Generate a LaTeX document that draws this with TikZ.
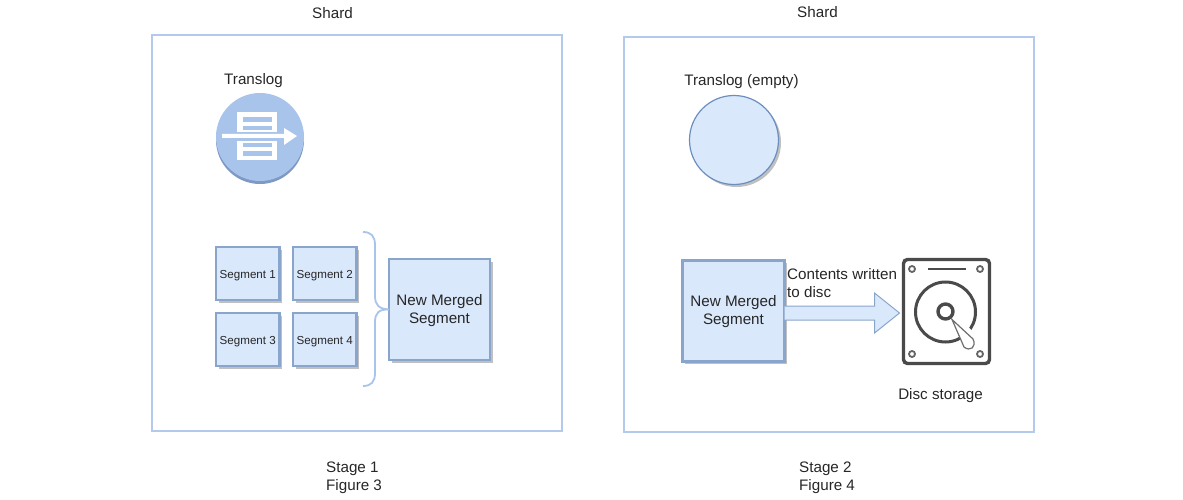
\documentclass[tikz,border=0pt]{standalone}
\usepackage{fontspec}
\setmainfont{Liberation Sans}
\usetikzlibrary{positioning,shadows}
\definecolor{paleblue}{HTML}{DAE8FC}
\definecolor{edgeblue}{HTML}{6C8EBF}
\definecolor{frameblue}{HTML}{B4CAEC}
\definecolor{iconblue}{HTML}{A9C4EB}
\definecolor{iconedge}{HTML}{7D99C4}
\definecolor{diskgray}{HTML}{4A4A4A}
\tikzset{
	label15/.style={font=\fontsize{15.2}{18}\selectfont,text=black!85},
	softshadow/.style={drop shadow={shadow xshift=2.5pt,shadow yshift=-2.5pt,fill=black!45,opacity=0.55}},
	shard/.style={draw=frameblue,line width=2.7,anchor=north west,inner sep=0,outer sep=0},
	boxbase/.style={draw=edgeblue!80,line width=2.6,fill=paleblue,softshadow,anchor=north west,inner sep=0,outer sep=0},
	segbox/.style={boxbase,minimum width=63.5,minimum height=53,font=\fontsize{11.6}{13}\selectfont,text=black!85,text height=10pt,text depth=0pt},
	mergedbox/.style={boxbase,label15,align=center,minimum width=102,minimum height=101,text depth=2pt},
	screw/.style={circle,draw=diskgray!85,line width=1.8,fill=white,inner sep=0,minimum size=6},
}
\begin{document}
\begin{tikzpicture}[x=1pt,y=-1pt]
	\useasboundingbox (0,0) rectangle (1183,500);
	% frames
	\node[shard,minimum width=410,minimum height=396] (F1) at (152,35) {};
	\node[shard,minimum width=410,minimum height=395] (F2) at (624,37) {};
	\node[label15] (L1) at (332.5,13.5) {Shard};
	\node[label15] (L2) at (817.5,12.5) {Shard};
	\node[label15,align=left,anchor=west,inner sep=0] (C1) at (326,478) {Stage 1\\Figure 3};
	\node[label15,align=left,anchor=west,inner sep=0] (C2) at (799,478) {Stage 2\\Figure 4};
	% translog icon
	\node[circle,fill=iconedge,inner sep=0,minimum size=88] at (260,140) {};
	\node[circle,fill=iconblue,inner sep=0,minimum size=88] (T) at (260,137) {};
	\node[label15] (TL) at (253.5,80.5) {Translog};
	\fill[white] (237,112) rectangle (277,132.5);
	\fill[white] (237,141.5) rectangle (277,160);
	\fill[iconblue] (243,117.3) rectangle (272,121.7);
	\fill[iconblue] (243,126) rectangle (272,130.5);
	\fill[iconblue] (243,143.5) rectangle (272,147.5);
	\fill[iconblue] (243,151) rectangle (272,155.5);
	\fill[white] (222,134) -- (284,134) -- (284,128) -- (297,136) -- (284,145) -- (284,138) -- (222,138) -- cycle;
	% empty translog
	\node[circle,draw=edgeblue,line width=1.2,fill=paleblue,inner sep=0,minimum size=89,softshadow] (E) at (734,140) {};
	\node[label15] (EL) at (741.5,81.5) {Translog (empty)};
	% segments
	\node[segbox] (S1) at (216,247) {Segment 1};
	\node[segbox] (S2) at (293,247) {Segment 2};
	\node[segbox] (S3) at (216,313) {Segment 3};
	\node[segbox] (S4) at (293,313) {Segment 4};
	\node[mergedbox,minimum width=101] (M1) at (389,259) {New Merged\\Segment};
	\coordinate (BT) at (363,232);
	\coordinate (BB) at (363,386);
	\draw[draw=iconblue,line width=1.8] (BT) .. controls (371,232) and (375,236) .. (375,245) -- (375,296) .. controls (375,305) and (379,309) .. (M1.west);
	\draw[draw=iconblue,line width=1.8] (BB) .. controls (371,386) and (375,382) .. (375,373) -- (375,322) .. controls (375,313) and (379,309) .. (M1.west);
	% stage 2
	\node[mergedbox] (M2) at (682.5,260.5) {New Merged\\Segment};
	\node[draw=diskgray,line width=3.4,rounded corners=4,inner sep=0,outer sep=0,minimum width=86,minimum height=104] (D) at (946.5,311.5) {};
	\draw[draw=edgeblue!80,line width=1,fill=paleblue] ([yshift=5]M2.east) -- ([xshift=-29,yshift=5.5]D.west) -- ([xshift=-29,yshift=18.5]D.west) -- ([xshift=-4,yshift=-1.5]D.west) -- ([xshift=-29,yshift=-21.5]D.west) -- ([xshift=-29,yshift=-8.5]D.west) -- ([yshift=-9]M2.east);
	\node[label15,align=left,anchor=north west,inner sep=0] (W) at (787,268) {Contents written\\to disc};
	\node[label15] (DL) at (940.5,395.5) {Disc storage};
	% disk details
	\draw[diskgray,line width=1.6] ([xshift=-18.5,yshift=42.5]D.center) -- ([xshift=19.5,yshift=42.5]D.center);
	\node[screw] at ([xshift=-34.5,yshift=42.5]D.center) {};
	\node[screw] at ([xshift=33.5,yshift=42.5]D.center) {};
	\node[screw] at ([xshift=-34.5,yshift=-42.5]D.center) {};
	\node[screw] at ([xshift=33.5,yshift=-42.5]D.center) {};
	\node[draw=diskgray,line width=3,circle,inner sep=0,minimum size=60] (P) at (945.5,312) {};
	\node[draw=diskgray,line width=3.4,circle,inner sep=0,minimum size=15] (H) at (945.5,311.5) {};
	\fill[white] (958,332) -- (970,349) -- (980,338) -- (966,325) -- cycle;
	\draw[draw=diskgray!80,line width=1.2,fill=white] (952,319.5) -- (973,339) .. controls (977,347) and (970,352) .. (964,347) -- cycle;
\end{tikzpicture}
\end{document}
